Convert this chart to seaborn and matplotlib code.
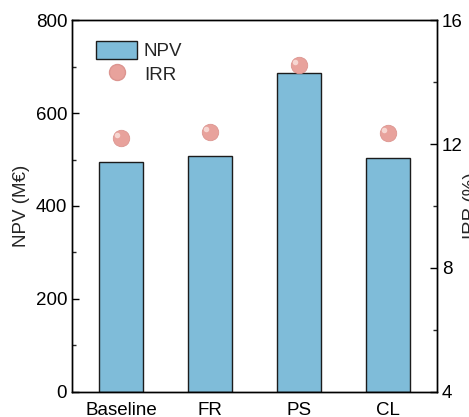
import matplotlib
matplotlib.use("Agg")
import matplotlib.pyplot as plt
import seaborn as sns
import pandas as pd
from matplotlib.ticker import MultipleLocator
from matplotlib.patches import Patch
from matplotlib.lines import Line2D

scenarios = ["Baseline", "FR", "PS", "CL"]
npv = [495, 508, 686, 503]
irr = [12.2, 12.4, 14.55, 12.35]

sns.set_style("ticks")
plt.rcParams["font.family"] = ["Liberation Sans", "DejaVu Sans"]
plt.rcParams["font.size"] = 13.5

df = pd.DataFrame({"scenario": scenarios, "npv": npv, "irr": irr})

fig = plt.figure(figsize=(4.69, 4.17), dpi=100)
ax = fig.add_axes([0.1535, 0.060, 0.778, 0.892])

sns.barplot(data=df, x="scenario", y="npv", color="#7fbcd9", saturation=1,
            edgecolor="#1c1c1c", linewidth=1.0, width=0.5, ax=ax)
ax.set_xlim(-0.55, 3.55)
ax.set_ylim(0, 800)
ax.yaxis.set_major_locator(MultipleLocator(200))
ax.yaxis.set_minor_locator(MultipleLocator(100))
ax.set_ylabel("NPV (M€)", fontsize=13.5)
ax.set_xlabel("")

ax2 = ax.twinx()
# sphere-like markers: base disc plus a small light highlight
sns.scatterplot(data=df, x="scenario", y="irr", s=140, color="#e8a29c",
                edgecolor="#dc9590", linewidth=0.6, ax=ax2, zorder=3)
for i, v in enumerate(irr):
    ax2.plot(i - 0.04, v + 0.09, "o", ms=4, color="#f8dcd8", mec="none",
             alpha=0.9, zorder=4)
ax2.set_ylim(4, 16)
ax2.yaxis.set_major_locator(MultipleLocator(4))
ax2.yaxis.set_minor_locator(MultipleLocator(2))
ax2.set_ylabel("IRR (%)", fontsize=13.5, labelpad=0)
ax2.set_xlim(-0.55, 3.55)

for a in (ax, ax2):
    for sp in a.spines.values():
        sp.set_visible(True)
        sp.set_linewidth(1.0)
        sp.set_color("black")
    a.tick_params(which="major", direction="in", length=5, width=1.0,
                  labelsize=13.5, colors="black")
    a.tick_params(which="minor", direction="in", length=3, width=1.0)
ax.tick_params(axis="x", which="minor", bottom=False)
ax.tick_params(axis="x", which="major", pad=7)

handles = [
    Patch(facecolor="#7fbcd9", edgecolor="#1c1c1c", linewidth=1.0, label="NPV"),
    Line2D([], [], marker="o", ls="none", ms=11.5, color="#e8a29c",
           mec="#dc9590", label="IRR"),
]
ax.legend(handles=handles, loc="upper left", frameon=False,
          bbox_to_anchor=(0.02, 0.99), handlelength=2.2, handleheight=1.1,
          handletextpad=0.35, labelspacing=0.25, fontsize=13.5)

fig.savefig("out.png", dpi=100)
